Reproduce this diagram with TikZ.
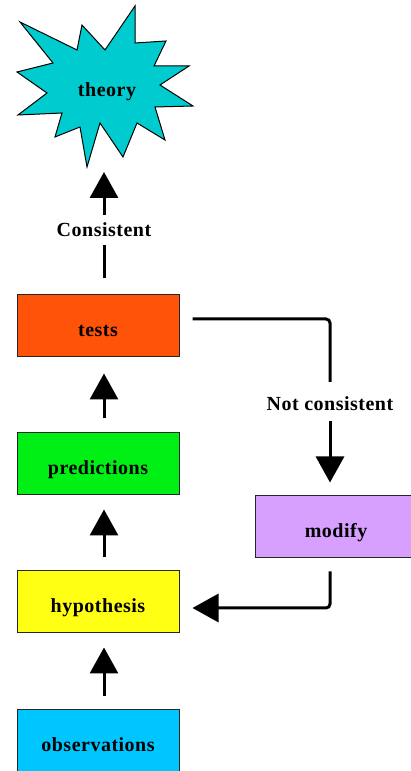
\documentclass[tikz,border=0pt]{standalone}
\usepackage{fontspec}
\setmainfont[LetterSpace=2.5]{Liberation Serif}
\usetikzlibrary{arrows.meta}
\definecolor{cTests}{HTML}{FF5309}
\definecolor{cPred}{HTML}{00F015}
\definecolor{cHyp}{HTML}{FFFF14}
\definecolor{cObs}{HTML}{00C6FF}
\definecolor{cMod}{HTML}{D7A0FF}
\definecolor{cTheory}{HTML}{00CCD0}
\begin{document}
\begin{tikzpicture}[x=1pt,y=1pt,
  txt/.style={font=\fontsize{20}{22}\selectfont\bfseries},
  box/.style={txt,draw=black!85,line width=1pt,minimum width=162pt,minimum height=62pt,inner sep=0pt,text height=25pt,text depth=4pt},
  lbl/.style={txt,inner sep=0pt},
  plain/.style={line width=3pt},
  conn/.style={line width=3pt,-{Triangle[width=28pt,length=26pt]}}]
\useasboundingbox (0,0) rectangle (411,771);
\clip (0,0) rectangle (411,771);
\fill[white] (0,0) rectangle (411,771);
% theory star
\filldraw[fill=cTheory,draw=black,line width=1pt]
  (135,765) -- (135,728) -- (166,730) -- (154,705) -- (189,705) -- (160,686)
  -- (193,665) -- (155,664) -- (165,631) -- (137,648) -- (123,614) -- (100,648)
  -- (87,604) -- (80,644) -- (55,634) -- (62,658) -- (18,656) -- (47,678)
  -- (17,699) -- (53,708) -- (20,749) -- (77,721) -- (82,746) -- (105,721) -- cycle;
\node[lbl] (theory) at (107,679) {theory};
\coordinate (theorytip) at (104,599);
% boxes
\node[box,fill=cTests] (tests) at (98,445) {tests};
\node[box,fill=cPred] (pred) at (98,307) {predictions};
\node[box,fill=cHyp] (hyp) at (98,169) {hypothesis};
\node[box,fill=cObs] (obs) at (98,30) {observations};
\node[box,fill=cMod] (mod) at (336,244) {modify};
% labels
\node[lbl,minimum height=30pt] (cons) at (104,541) {Consistent};
\node[lbl,minimum height=39pt,text height=22pt,text depth=4pt] (ncons) at (330,369.5) {Not consistent};
% connectors
\draw[conn,shorten <=13pt,shorten >=14pt] ([xshift=6pt]obs.north) -- ([xshift=6pt]hyp.south);
\draw[conn,shorten <=13pt,shorten >=14pt] ([xshift=6pt]hyp.north) -- ([xshift=6pt]pred.south);
\draw[conn,shorten <=14pt,shorten >=16pt] ([xshift=6pt]pred.north) -- ([xshift=6pt]tests.south);
\draw[plain,shorten <=16pt] ([xshift=6pt]tests.north) -- (cons.south);
\draw[conn] (cons.north) -- (theorytip);
\draw[plain,rounded corners=4pt] ([xshift=13pt,yshift=7pt]tests.east) -| (ncons.north);
\draw[conn,shorten >=13pt] (ncons.south) -- ([xshift=-6pt]mod.north);
\draw[conn,rounded corners=4pt,shorten <=13pt] ([xshift=-6pt]mod.south) |- ([xshift=13pt,yshift=-6pt]hyp.east);
\end{tikzpicture}
\end{document}
